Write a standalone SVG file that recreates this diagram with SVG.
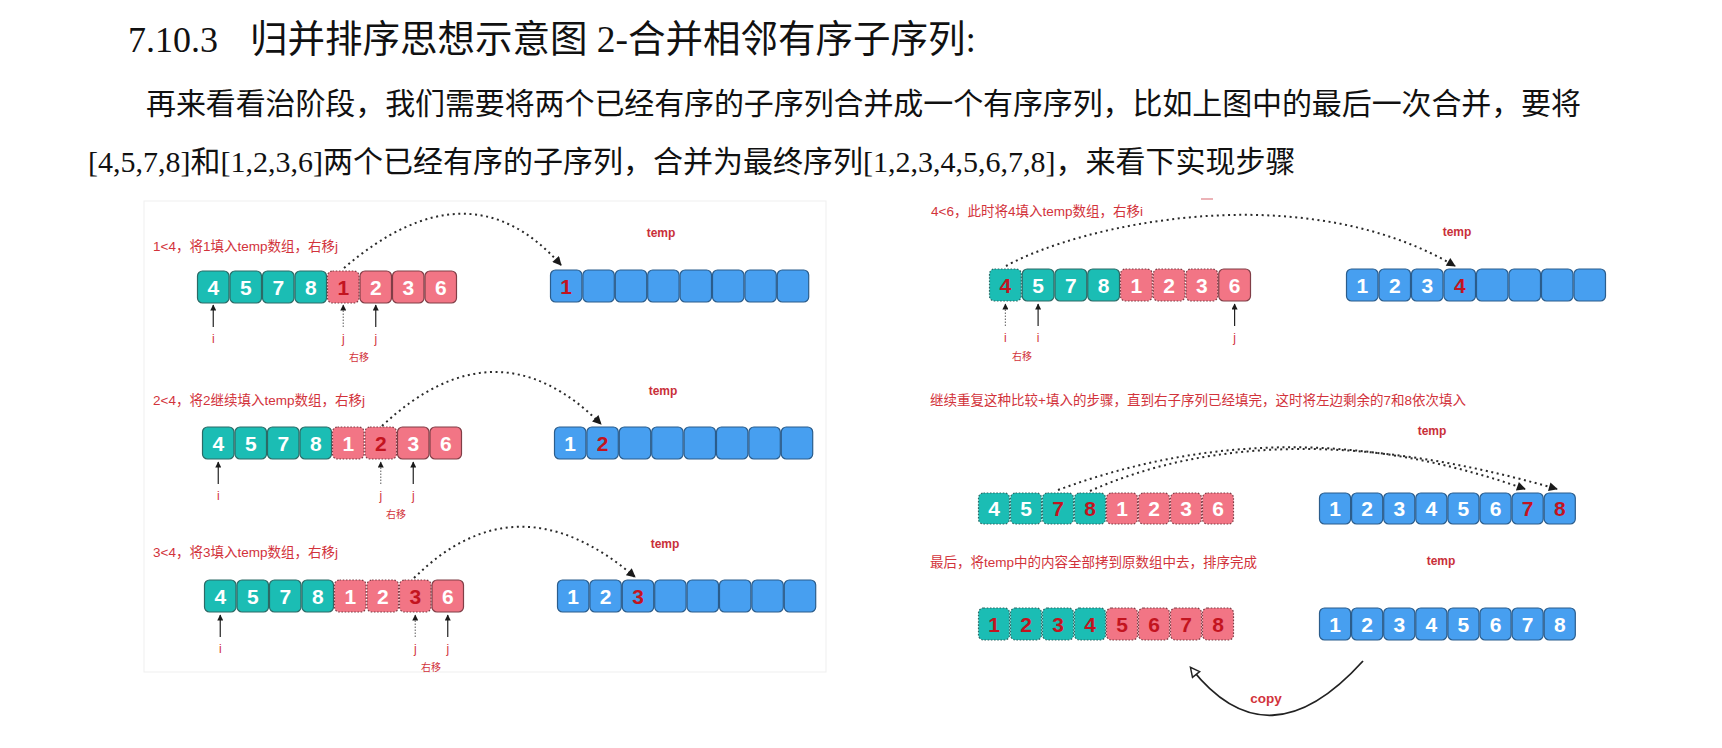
<svg xmlns="http://www.w3.org/2000/svg" width="1722" height="748" viewBox="0 0 1722 748">
  <style>
    .title{font-family:"Liberation Serif","Noto Sans CJK SC",serif;font-size:36px;fill:#111}
    .body{font-family:"Liberation Serif","Noto Sans CJK SC",serif;font-size:30px;fill:#111}
    .lbl{font-family:"Liberation Sans","Noto Sans CJK SC",sans-serif;font-size:13.5px;fill:#d2333b}
    .tmp{font-family:"Liberation Sans",Arial,sans-serif;font-size:12px;font-weight:bold;fill:#c9303a;text-anchor:middle}
    .ij{font-family:"Liberation Sans",Arial,sans-serif;font-size:12px;fill:#d2333b;text-anchor:middle}
    .mv{font-family:"Noto Sans CJK SC",sans-serif;font-size:10px;fill:#d2333b;text-anchor:middle}
    .t{fill:#1bbdb4;stroke:#2c6a66;stroke-width:1.2}
    .p{fill:#f27585;stroke:#803e47;stroke-width:1.2}
    .b{fill:#479ff0;stroke:#2b5d8c;stroke-width:1.2}
    .d{stroke-dasharray:1.6 1.6}
    .n{font-family:"Liberation Sans",Arial,sans-serif;font-size:21px;font-weight:bold;fill:#fff;text-anchor:middle}
    .r{fill:#c3141f}
    .arc{fill:none;stroke:#2a2a2a;stroke-width:2;stroke-dasharray:2 3.6}
    .ptr{stroke:#222;stroke-width:1.2}
    .ptrd{stroke:#777;stroke-width:1.2;stroke-dasharray:1.5 1.5}
    .copy{fill:none;stroke:#222;stroke-width:1.8}
  </style>
  <defs>
    <marker id="ah" viewBox="0 0 10 10" refX="9" refY="5" markerWidth="10" markerHeight="9" markerUnits="userSpaceOnUse" orient="auto">
      <path d="M0,0 L10,5 L0,10 z" fill="#1a1a1a"/>
    </marker>
    <marker id="pa" viewBox="0 0 10 10" refX="9" refY="5" markerWidth="7" markerHeight="6" markerUnits="userSpaceOnUse" orient="auto">
      <path d="M0,0 L10,5 L0,10 z" fill="#1a1a1a"/>
    </marker>
    <marker id="oa" viewBox="0 0 12 12" refX="10" refY="6" markerWidth="12" markerHeight="11" markerUnits="userSpaceOnUse" orient="auto">
      <path d="M1,1 L11,6 L1,11 z" fill="#fff" stroke="#222" stroke-width="1.6"/>
    </marker>
  </defs>

  <rect width="1722" height="748" fill="#fff"/>

  <!-- heading and paragraph -->
  <g id="heading">
    <text class="title" x="128" y="52">7.10.3<tspan x="250" font-size="37.5">归并排序思想示意图 2-合并相邻有序子序列:</tspan></text>
  </g>
  <g id="paragraph">
    <text class="body" x="146" y="114" textLength="1435" lengthAdjust="spacing">再来看看治阶段，我们需要将两个已经有序的子序列合并成一个有序序列，比如上图中的最后一次合并，要将</text>
    <text class="body" x="88" y="172">[4,5,7,8]和[1,2,3,6]两个已经有序的子序列，合并为最终序列[1,2,3,4,5,6,7,8]，来看下实现步骤</text>
  </g>

  <!-- left figure frame -->
  <rect id="frame-left" x="144" y="201" width="682" height="471" fill="none" stroke="#efefef" stroke-width="1"/>

  <!-- step 1 -->
  <g id="step1-labels">
    <text class="lbl" x="153" y="251">1&lt;4，将1填入temp数组，右移j</text>
    <text class="tmp" x="661" y="237">temp</text>
  </g>
  <g id="step1-array">
    <rect class="t" x="197.5" y="271" width="31.5" height="32" rx="5"/>
    <rect class="t" x="230" y="271" width="31.5" height="32" rx="5"/>
    <rect class="t" x="262.5" y="271" width="31.5" height="32" rx="5"/>
    <rect class="t" x="295" y="271" width="31.5" height="32" rx="5"/>
    <rect class="p d" x="327.5" y="271" width="31.5" height="32" rx="5"/>
    <rect class="p" x="360" y="271" width="31.5" height="32" rx="5"/>
    <rect class="p" x="392.5" y="271" width="31.5" height="32" rx="5"/>
    <rect class="p" x="425" y="271" width="31.5" height="32" rx="5"/>
    <text class="n" x="213.25" y="294.5">4</text>
    <text class="n" x="245.75" y="294.5">5</text>
    <text class="n" x="278.25" y="294.5">7</text>
    <text class="n" x="310.75" y="294.5">8</text>
    <text class="n r" x="343.25" y="294.5">1</text>
    <text class="n" x="375.75" y="294.5">2</text>
    <text class="n" x="408.25" y="294.5">3</text>
    <text class="n" x="440.75" y="294.5">6</text>
  </g>
  <g id="step1-temp">
    <rect class="b" x="550.5" y="270" width="31.4" height="32" rx="5"/>
    <rect class="b" x="582.9" y="270" width="31.4" height="32" rx="5"/>
    <rect class="b" x="615.3" y="270" width="31.4" height="32" rx="5"/>
    <rect class="b" x="647.7" y="270" width="31.4" height="32" rx="5"/>
    <rect class="b" x="680.1" y="270" width="31.4" height="32" rx="5"/>
    <rect class="b" x="712.5" y="270" width="31.4" height="32" rx="5"/>
    <rect class="b" x="744.9" y="270" width="31.4" height="32" rx="5"/>
    <rect class="b" x="777.3" y="270" width="31.4" height="32" rx="5"/>
    <text class="n r" x="566.2" y="293.5">1</text>
  </g>
  <g id="step1-pointers">
    <text class="ij" x="213.25" y="343">i</text>
    <text class="ij" x="343.25" y="343">j</text>
    <text class="ij" x="375.75" y="343">j</text>
    <text class="mv" x="359" y="361">右移</text>
  </g>

  <!-- step 2 -->
  <g id="step2-labels">
    <text class="lbl" x="153" y="405">2&lt;4，将2继续填入temp数组，右移j</text>
    <text class="tmp" x="663" y="395">temp</text>
  </g>
  <g id="step2-array">
    <rect class="t" x="202.5" y="427" width="31.5" height="32" rx="5"/>
    <rect class="t" x="235" y="427" width="31.5" height="32" rx="5"/>
    <rect class="t" x="267.5" y="427" width="31.5" height="32" rx="5"/>
    <rect class="t" x="300" y="427" width="31.5" height="32" rx="5"/>
    <rect class="p d" x="332.5" y="427" width="31.5" height="32" rx="5"/>
    <rect class="p d" x="365" y="427" width="31.5" height="32" rx="5"/>
    <rect class="p" x="397.5" y="427" width="31.5" height="32" rx="5"/>
    <rect class="p" x="430" y="427" width="31.5" height="32" rx="5"/>
    <text class="n" x="218.25" y="450.5">4</text>
    <text class="n" x="250.75" y="450.5">5</text>
    <text class="n" x="283.25" y="450.5">7</text>
    <text class="n" x="315.75" y="450.5">8</text>
    <text class="n" x="348.25" y="450.5">1</text>
    <text class="n r" x="380.75" y="450.5">2</text>
    <text class="n" x="413.25" y="450.5">3</text>
    <text class="n" x="445.75" y="450.5">6</text>
  </g>
  <g id="step2-temp">
    <rect class="b" x="554.5" y="427" width="31.4" height="32" rx="5"/>
    <rect class="b" x="586.9" y="427" width="31.4" height="32" rx="5"/>
    <rect class="b" x="619.3" y="427" width="31.4" height="32" rx="5"/>
    <rect class="b" x="651.7" y="427" width="31.4" height="32" rx="5"/>
    <rect class="b" x="684.1" y="427" width="31.4" height="32" rx="5"/>
    <rect class="b" x="716.5" y="427" width="31.4" height="32" rx="5"/>
    <rect class="b" x="748.9" y="427" width="31.4" height="32" rx="5"/>
    <rect class="b" x="781.3" y="427" width="31.4" height="32" rx="5"/>
    <text class="n" x="570.2" y="450.5">1</text>
    <text class="n r" x="602.6" y="450.5">2</text>
  </g>
  <g id="step2-pointers">
    <text class="ij" x="218.25" y="500">i</text>
    <text class="ij" x="380.75" y="500">j</text>
    <text class="ij" x="413.25" y="500">j</text>
    <text class="mv" x="396" y="518">右移</text>
  </g>

  <!-- step 3 -->
  <g id="step3-labels">
    <text class="lbl" x="153" y="557">3&lt;4，将3填入temp数组，右移j</text>
    <text class="tmp" x="665" y="548">temp</text>
  </g>
  <g id="step3-array">
    <rect class="t" x="204.5" y="580" width="31.5" height="32" rx="5"/>
    <rect class="t" x="237" y="580" width="31.5" height="32" rx="5"/>
    <rect class="t" x="269.5" y="580" width="31.5" height="32" rx="5"/>
    <rect class="t" x="302" y="580" width="31.5" height="32" rx="5"/>
    <rect class="p d" x="334.5" y="580" width="31.5" height="32" rx="5"/>
    <rect class="p d" x="367" y="580" width="31.5" height="32" rx="5"/>
    <rect class="p d" x="399.5" y="580" width="31.5" height="32" rx="5"/>
    <rect class="p" x="432" y="580" width="31.5" height="32" rx="5"/>
    <text class="n" x="220.25" y="603.5">4</text>
    <text class="n" x="252.75" y="603.5">5</text>
    <text class="n" x="285.25" y="603.5">7</text>
    <text class="n" x="317.75" y="603.5">8</text>
    <text class="n" x="350.25" y="603.5">1</text>
    <text class="n" x="382.75" y="603.5">2</text>
    <text class="n r" x="415.25" y="603.5">3</text>
    <text class="n" x="447.75" y="603.5">6</text>
  </g>
  <g id="step3-temp">
    <rect class="b" x="557.5" y="580" width="31.4" height="32" rx="5"/>
    <rect class="b" x="589.9" y="580" width="31.4" height="32" rx="5"/>
    <rect class="b" x="622.3" y="580" width="31.4" height="32" rx="5"/>
    <rect class="b" x="654.7" y="580" width="31.4" height="32" rx="5"/>
    <rect class="b" x="687.1" y="580" width="31.4" height="32" rx="5"/>
    <rect class="b" x="719.5" y="580" width="31.4" height="32" rx="5"/>
    <rect class="b" x="751.9" y="580" width="31.4" height="32" rx="5"/>
    <rect class="b" x="784.3" y="580" width="31.4" height="32" rx="5"/>
    <text class="n" x="573.2" y="603.5">1</text>
    <text class="n" x="605.6" y="603.5">2</text>
    <text class="n r" x="638" y="603.5">3</text>
  </g>
  <g id="step3-pointers">
    <text class="ij" x="220.25" y="653">i</text>
    <text class="ij" x="415.25" y="653">j</text>
    <text class="ij" x="447.75" y="653">j</text>
    <text class="mv" x="431" y="671">右移</text>
  </g>

  <!-- step 4 -->
  <g id="step4-labels">
    <text class="lbl" x="931" y="216" font-size="15">4&lt;6，此时将4填入temp数组，右移i</text>
    <text class="tmp" x="1457" y="236">temp</text>
    <line x1="1201" y1="199" x2="1213" y2="199" stroke="#e08088" stroke-width="1.2"/>
  </g>
  <g id="step4-array">
    <rect class="t d" x="989.5" y="269" width="31.75" height="32" rx="5"/>
    <rect class="t" x="1022.25" y="269" width="31.75" height="32" rx="5"/>
    <rect class="t" x="1055" y="269" width="31.75" height="32" rx="5"/>
    <rect class="t" x="1087.75" y="269" width="31.75" height="32" rx="5"/>
    <rect class="p d" x="1120.5" y="269" width="31.75" height="32" rx="5"/>
    <rect class="p d" x="1153.25" y="269" width="31.75" height="32" rx="5"/>
    <rect class="p d" x="1186" y="269" width="31.75" height="32" rx="5"/>
    <rect class="p" x="1218.75" y="269" width="31.75" height="32" rx="5"/>
    <text class="n r" x="1005.4" y="292.5">4</text>
    <text class="n" x="1038.1" y="292.5">5</text>
    <text class="n" x="1070.9" y="292.5">7</text>
    <text class="n" x="1103.6" y="292.5">8</text>
    <text class="n" x="1136.4" y="292.5">1</text>
    <text class="n" x="1169.1" y="292.5">2</text>
    <text class="n" x="1201.9" y="292.5">3</text>
    <text class="n" x="1234.6" y="292.5">6</text>
  </g>
  <g id="step4-temp">
    <rect class="b" x="1346.5" y="269" width="31.5" height="32" rx="5"/>
    <rect class="b" x="1379" y="269" width="31.5" height="32" rx="5"/>
    <rect class="b" x="1411.5" y="269" width="31.5" height="32" rx="5"/>
    <rect class="b" x="1444" y="269" width="31.5" height="32" rx="5"/>
    <rect class="b" x="1476.5" y="269" width="31.5" height="32" rx="5"/>
    <rect class="b" x="1509" y="269" width="31.5" height="32" rx="5"/>
    <rect class="b" x="1541.5" y="269" width="31.5" height="32" rx="5"/>
    <rect class="b" x="1574" y="269" width="31.5" height="32" rx="5"/>
    <text class="n" x="1362.25" y="292.5">1</text>
    <text class="n" x="1394.75" y="292.5">2</text>
    <text class="n" x="1427.25" y="292.5">3</text>
    <text class="n r" x="1459.75" y="292.5">4</text>
  </g>
  <g id="step4-pointers">
    <text class="ij" x="1005.4" y="342">i</text>
    <text class="ij" x="1038.1" y="342">i</text>
    <text class="ij" x="1234.6" y="342">j</text>
    <text class="mv" x="1022" y="360">右移</text>
  </g>

  <!-- step 5 -->
  <g id="step5-labels">
    <text class="lbl" x="930" y="405" font-size="13.1">继续重复这种比较+填入的步骤，直到右子序列已经填完，这时将左边剩余的7和8依次填入</text>
    <text class="tmp" x="1432" y="435">temp</text>
  </g>
  <g id="step5-array">
    <rect class="t d" x="978.5" y="493" width="31" height="31" rx="5"/>
    <rect class="t d" x="1010.5" y="493" width="31" height="31" rx="5"/>
    <rect class="t d" x="1042.5" y="493" width="31" height="31" rx="5"/>
    <rect class="t d" x="1074.5" y="493" width="31" height="31" rx="5"/>
    <rect class="p d" x="1106.5" y="493" width="31" height="31" rx="5"/>
    <rect class="p d" x="1138.5" y="493" width="31" height="31" rx="5"/>
    <rect class="p d" x="1170.5" y="493" width="31" height="31" rx="5"/>
    <rect class="p d" x="1202.5" y="493" width="31" height="31" rx="5"/>
    <text class="n" x="994" y="516">4</text>
    <text class="n" x="1026" y="516">5</text>
    <text class="n r" x="1058" y="516">7</text>
    <text class="n r" x="1090" y="516">8</text>
    <text class="n" x="1122" y="516">1</text>
    <text class="n" x="1154" y="516">2</text>
    <text class="n" x="1186" y="516">3</text>
    <text class="n" x="1218" y="516">6</text>
  </g>
  <g id="step5-temp">
    <rect class="b" x="1319.5" y="493" width="31.1" height="31" rx="5"/>
    <rect class="b" x="1351.6" y="493" width="31.1" height="31" rx="5"/>
    <rect class="b" x="1383.7" y="493" width="31.1" height="31" rx="5"/>
    <rect class="b" x="1415.8" y="493" width="31.1" height="31" rx="5"/>
    <rect class="b" x="1447.9" y="493" width="31.1" height="31" rx="5"/>
    <rect class="b" x="1480" y="493" width="31.1" height="31" rx="5"/>
    <rect class="b" x="1512.1" y="493" width="31.1" height="31" rx="5"/>
    <rect class="b" x="1544.2" y="493" width="31.1" height="31" rx="5"/>
    <text class="n" x="1335.05" y="516">1</text>
    <text class="n" x="1367.15" y="516">2</text>
    <text class="n" x="1399.25" y="516">3</text>
    <text class="n" x="1431.35" y="516">4</text>
    <text class="n" x="1463.45" y="516">5</text>
    <text class="n" x="1495.55" y="516">6</text>
    <text class="n r" x="1527.65" y="516">7</text>
    <text class="n r" x="1559.75" y="516">8</text>
  </g>

  <!-- step 6 -->
  <g id="step6-labels">
    <text class="lbl" x="930" y="567">最后，将temp中的内容全部拷到原数组中去，排序完成</text>
    <text class="tmp" x="1441" y="565">temp</text>
    <text class="lbl" x="1266" y="703" text-anchor="middle" font-size="17" font-weight="bold">copy</text>
  </g>
  <g id="step6-array">
    <rect class="t d" x="978.5" y="608" width="31" height="32" rx="5"/>
    <rect class="t d" x="1010.5" y="608" width="31" height="32" rx="5"/>
    <rect class="t d" x="1042.5" y="608" width="31" height="32" rx="5"/>
    <rect class="t d" x="1074.5" y="608" width="31" height="32" rx="5"/>
    <rect class="p d" x="1106.5" y="608" width="31" height="32" rx="5"/>
    <rect class="p d" x="1138.5" y="608" width="31" height="32" rx="5"/>
    <rect class="p d" x="1170.5" y="608" width="31" height="32" rx="5"/>
    <rect class="p d" x="1202.5" y="608" width="31" height="32" rx="5"/>
    <text class="n r" x="994" y="631.5">1</text>
    <text class="n r" x="1026" y="631.5">2</text>
    <text class="n r" x="1058" y="631.5">3</text>
    <text class="n r" x="1090" y="631.5">4</text>
    <text class="n r" x="1122" y="631.5">5</text>
    <text class="n r" x="1154" y="631.5">6</text>
    <text class="n r" x="1186" y="631.5">7</text>
    <text class="n r" x="1218" y="631.5">8</text>
  </g>
  <g id="step6-temp">
    <rect class="b" x="1319.5" y="608" width="31.1" height="32" rx="5"/>
    <rect class="b" x="1351.6" y="608" width="31.1" height="32" rx="5"/>
    <rect class="b" x="1383.7" y="608" width="31.1" height="32" rx="5"/>
    <rect class="b" x="1415.8" y="608" width="31.1" height="32" rx="5"/>
    <rect class="b" x="1447.9" y="608" width="31.1" height="32" rx="5"/>
    <rect class="b" x="1480" y="608" width="31.1" height="32" rx="5"/>
    <rect class="b" x="1512.1" y="608" width="31.1" height="32" rx="5"/>
    <rect class="b" x="1544.2" y="608" width="31.1" height="32" rx="5"/>
    <text class="n" x="1335.05" y="631.5">1</text>
    <text class="n" x="1367.15" y="631.5">2</text>
    <text class="n" x="1399.25" y="631.5">3</text>
    <text class="n" x="1431.35" y="631.5">4</text>
    <text class="n" x="1463.45" y="631.5">5</text>
    <text class="n" x="1495.55" y="631.5">6</text>
    <text class="n" x="1527.65" y="631.5">7</text>
    <text class="n" x="1559.75" y="631.5">8</text>
  </g>

  <!-- connectors: transfer arcs, index pointers, copy-back arrow -->
  <g id="connectors">
    <path class="arc" d="M344,268 Q469,161 561,265" marker-end="url(#ah)"/>
    <path class="arc" d="M382,426 Q496,319 601,424" marker-end="url(#ah)"/>
    <path class="arc" d="M414,578 Q517,476 635,577" marker-end="url(#ah)"/>
    <path class="arc" d="M1006,266 C1080,225 1300,175 1455,266" marker-end="url(#ah)"/>
    <path class="arc" d="M1058,490 Q1288,405 1525,489" marker-end="url(#ah)"/>
    <path class="arc" d="M1090,491 Q1276,408 1557,489" marker-end="url(#ah)"/>

    <line class="ptr" x1="213.25" y1="327" x2="213.25" y2="305" marker-end="url(#pa)"/>
    <line class="ptrd" x1="343.25" y1="327" x2="343.25" y2="305" marker-end="url(#pa)"/>
    <line class="ptr" x1="375.75" y1="327" x2="375.75" y2="305" marker-end="url(#pa)"/>

    <line class="ptr" x1="218.25" y1="484" x2="218.25" y2="462" marker-end="url(#pa)"/>
    <line class="ptrd" x1="380.75" y1="484" x2="380.75" y2="462" marker-end="url(#pa)"/>
    <line class="ptr" x1="413.25" y1="484" x2="413.25" y2="462" marker-end="url(#pa)"/>

    <line class="ptr" x1="220.25" y1="637" x2="220.25" y2="615" marker-end="url(#pa)"/>
    <line class="ptrd" x1="415.25" y1="637" x2="415.25" y2="615" marker-end="url(#pa)"/>
    <line class="ptr" x1="447.75" y1="637" x2="447.75" y2="615" marker-end="url(#pa)"/>

    <line class="ptrd" x1="1005.4" y1="326" x2="1005.4" y2="304" marker-end="url(#pa)"/>
    <line class="ptr" x1="1038.1" y1="326" x2="1038.1" y2="304" marker-end="url(#pa)"/>
    <line class="ptr" x1="1234.6" y1="326" x2="1234.6" y2="304" marker-end="url(#pa)"/>

    <path class="copy" d="M1363,661 Q1268,766 1191,668" marker-end="url(#oa)"/>
  </g>
</svg>
